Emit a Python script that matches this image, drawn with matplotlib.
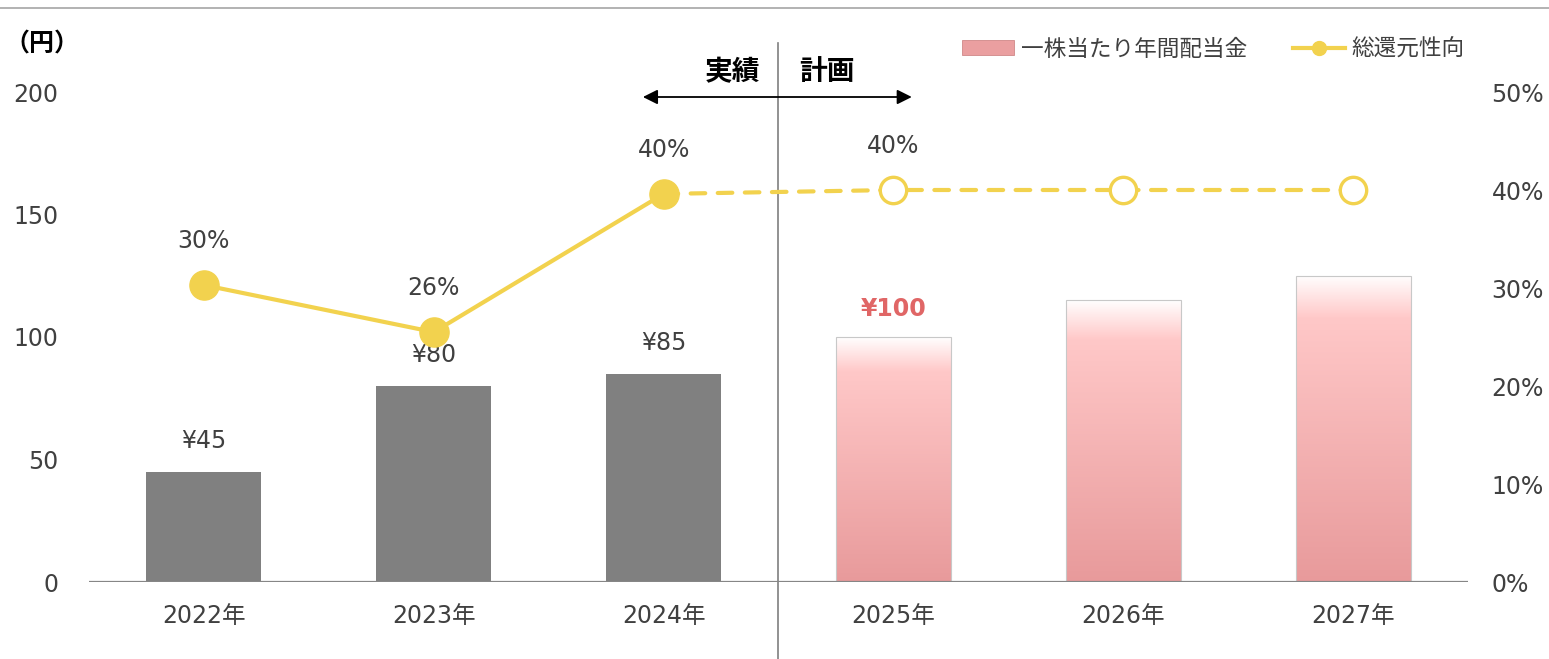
import numpy as np
import matplotlib
matplotlib.use("Agg")
import matplotlib.pyplot as plt
import matplotlib.transforms as mtransforms
from matplotlib.colors import LinearSegmentedColormap
from matplotlib.lines import Line2D
from matplotlib.patches import Patch
from matplotlib.ticker import FuncFormatter

plt.rcParams['font.family'] = ['DejaVu Sans', 'Noto Sans CJK JP']

# データ
years = ["2022年", "2023年", "2024年", "2025年", "2026年", "2027年"]
dividend = [45, 80, 85, 100, 115, 125]
dividend_labels = ["¥45", "¥80", "¥85", "¥100", "", ""]
payout = [30.3, 25.5, 39.6, 40, 40, 40]
payout_labels = ["30%", "26%", "40%", "40%", "", ""]
n_actual = 3  # 2022-2024 実績

TXT = '#404040'
GRAY_BAR = '#808080'
YELLOW = '#F2D24E'
RED_TXT = '#E06666'

fig = plt.figure(figsize=(15.49, 6.59), dpi=100)
W, H = 1549, 659
ax = fig.add_axes([89 / W, 1 - 582 / H, (1468 - 89) / W, (582 - 92) / H])
x = np.arange(len(years))
bw = 0.5

# 実績（グレー）
ax.bar(x[:n_actual], dividend[:n_actual], width=bw, color=GRAY_BAR, zorder=2)

# 計画（グラデーション）
cmap = LinearSegmentedColormap.from_list(
    "pinkgrad", [(0.0, '#E89A9B'), (0.86, '#FFC8C8'), (1.0, '#FFFFFF')], N=1024)
grad_rgb = cmap(np.linspace(0, 1, 1024))[:, :3].reshape(-1, 1, 3)
for xi, v in zip(x[n_actual:], dividend[n_actual:]):
    ax.imshow(grad_rgb, origin='lower', aspect='auto',
              interpolation='bilinear',
              extent=[xi - bw / 2, xi + bw / 2, 0, v], zorder=2)
ax.bar(x[n_actual:], dividend[n_actual:], width=bw, fill=False,
       edgecolor='#C8C8C8', linewidth=0.8, zorder=3)

ax.set_xlim(-0.5, len(years) - 0.5)
ax.set_ylim(0, 200)
ax.set_yticks([0, 50, 100, 150, 200])
ax.set_xticks(x)
ax.set_xticklabels(years)
for s in ax.spines.values():
    s.set_visible(False)
ax.axhline(0, color='#868686', lw=1.6, zorder=4)
ax.tick_params(axis='both', length=0, labelsize=17, labelcolor=TXT)
ax.tick_params(axis='y', pad=22)
ax.tick_params(axis='x', pad=16)

# 配当ラベル
for i, (v, lab) in enumerate(zip(dividend, dividend_labels)):
    if not lab:
        continue
    if i < n_actual:
        ax.annotate(lab, (x[i], v), xytext=(0, 22), textcoords='offset points',
                    ha='center', va='center', fontsize=17, color=TXT)
    else:
        ax.annotate(lab, (x[i], v), xytext=(0, 20), textcoords='offset points',
                    ha='center', va='center', fontsize=17, color=RED_TXT,
                    fontweight='bold')

# 総還元性向（右軸）
ax2 = ax.twinx()
ax2.set_ylim(0, 50)
ax2.set_yticks([0, 10, 20, 30, 40, 50])
ax2.yaxis.set_major_formatter(FuncFormatter(lambda v, p: f"{v:.0f}%"))
for s in ax2.spines.values():
    s.set_visible(False)
ax2.tick_params(axis='y', length=0, labelsize=17, labelcolor=TXT, pad=17)

ax2.plot(x[:n_actual], payout[:n_actual], color=YELLOW, lw=3, zorder=3,
         solid_capstyle='round')
ax2.plot(x[n_actual - 1:], payout[n_actual - 1:], color=YELLOW, lw=3,
         dashes=(3.5, 3), dash_capstyle='round', zorder=3)
ax2.plot(x[:n_actual], payout[:n_actual], 'o', ms=21, color=YELLOW,
         mec=YELLOW, zorder=4)
ax2.plot(x[n_actual:], payout[n_actual:], 'o', ms=19, mfc='white',
         mec=YELLOW, mew=2.4, zorder=4)
for i, lab in enumerate(payout_labels):
    if lab:
        ax2.annotate(lab, (x[i], payout[i]), xytext=(0, 31.5),
                     textcoords='offset points', ha='center', va='center',
                     fontsize=17, color=TXT)

# 実績 / 計画 の区切り
bt = mtransforms.blended_transform_factory(ax.transData, fig.transFigure)
ax.add_line(Line2D([2.5, 2.5], [0, 1 - 43 / H], transform=bt, color='#7F7F7F',
                   lw=1.2, clip_on=False, zorder=1))
ax.annotate("", xy=(1.91, 1 - 97 / H), xycoords=bt,
            xytext=(3.08, 1 - 97 / H), textcoords=bt,
            arrowprops=dict(arrowstyle='<|-|>', color='black', lw=1.3,
                            mutation_scale=22, shrinkA=0, shrinkB=0))
ax.annotate("実績", (2.5, 1 - 72 / H), xycoords=bt, xytext=(-13, 0),
            textcoords='offset points', ha='right', va='center',
            fontsize=20, fontweight='bold', color='black',
            family=['Noto Sans CJK JP'])
ax.annotate("計画", (2.5, 1 - 72 / H), xycoords=bt, xytext=(15, 0),
            textcoords='offset points', ha='left', va='center',
            fontsize=20, fontweight='bold', color='black',
            family=['Noto Sans CJK JP'])

# 単位
fig.text(4 / W, 1 - 45 / H, "（円）", ha='left', va='center', fontsize=18,
         fontweight='bold', color='black', family=['Noto Sans CJK JP'])

# 上部の罫線
fig.add_artist(Line2D([0, 1], [1 - 8 / H, 1 - 8 / H], color='#A6A6A6', lw=1.2))

# 凡例
handles = [Patch(facecolor='#EA9FA0', edgecolor='#D08888', lw=0.6),
           Line2D([0], [0], color=YELLOW, lw=3, marker='o', ms=10,
                  mfc=YELLOW, mec=YELLOW)]
leg = fig.legend(handles, ["一株当たり年間配当金", "総還元性向"],
                 loc='center left', bbox_to_anchor=(951 / W, 1 - 49 / H),
                 frameon=False, ncol=2, borderpad=0, handlelength=2.3,
                 handleheight=0.6, handletextpad=0.3, columnspacing=2.0,
                 prop={'family': 'Noto Sans CJK JP', 'size': 16.3})
for t in leg.get_texts():
    t.set_color(TXT)

fig.savefig("out.png", dpi=100, facecolor='white')
